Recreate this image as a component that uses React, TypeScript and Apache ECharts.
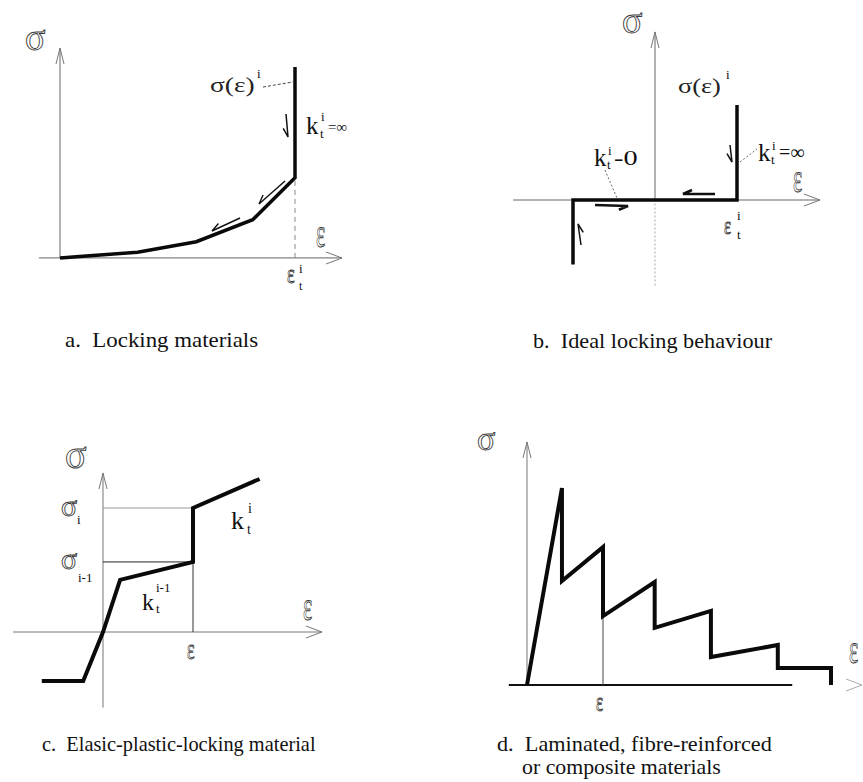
import { useEffect, useRef } from "react";
import * as echarts from "echarts";

// a. Locking materials: loading path, strain scaled so that ε_t^i = 1
const lockingStrain = [0, 0.33, 0.58, 0.82, 1.0, 1.0];
const lockingStress = [0, 0.03, 0.085, 0.2, 0.42, 1.0];

// b. Ideal locking behaviour
const idealStrain = [-1, -1, 1, 1];
const idealStress = [-0.68, 0, 0, 1];

// c. Elastic-plastic-locking material
const eplStrain = [-0.68, -0.22, 0, 0.19, 1, 1, 1.74];
const eplStress = [-0.395, -0.395, 0, 0.42, 0.565, 1, 1.234];
const sigmaI = 1;
const sigmaIPrev = 0.565;
const strainMarkC = 1;

// d. Laminated, fibre-reinforced or composite materials
const lamStrain = [0, 0.46, 0.46, 1, 1, 1.68, 1.68, 2.42, 2.42, 3.3, 3.3, 4, 4];
const lamStress = [0, 1, 0.528, 0.7, 0.35, 0.523, 0.29, 0.376, 0.142, 0.203, 0.086, 0.086, 0];
const strainMarkD = 1;

const captions = [
  "a.\u00a0 Locking materials",
  "b.\u00a0 Ideal locking behaviour",
  "c.\u00a0 Elasic-plastic-locking material",
  "d.\u00a0 Laminated, fibre-reinforced",
  "or composite materials",
];

const SERIF = "Liberation Serif";

const zip = (xs: number[], ys: number[]) => xs.map((x, i) => [x, ys[i]]);

function seg(grid: number, data: number[][], color: string, width: number, type: any = "solid", z = 2) {
  return {
    type: "line",
    xAxisIndex: grid,
    yAxisIndex: grid,
    data,
    symbol: "none",
    silent: true,
    z,
    lineStyle: { color, width, type, join: "miter", cap: "butt" },
  };
}

function txt(x: number, baseline: number, text: string, size: number, opt: any = {}) {
  const outline = opt.outline;
  const style: any = {
    text,
    fontSize: size,
    fontFamily: SERIF,
    fill: outline ? "none" : opt.fill ?? "#111",
    align: "left",
    verticalAlign: "middle",
  };
  if (outline) {
    style.stroke = "#3a3a3a";
    style.lineWidth = 0.9;
  }
  return {
    type: "text",
    x,
    y: baseline - 0.34 * size,
    scaleX: opt.scaleX ?? 1,
    z: 10,
    style,
  };
}

function poly(points: number[][], color: string, width: number, lineDash?: number[]) {
  return {
    type: "polyline",
    z: 9,
    shape: { points },
    style: { stroke: color, lineWidth: width, fill: "none", lineDash },
  };
}

// single-barbed arrow drawn beside a branch of the curve
function halfArrow(x1: number, y1: number, x2: number, y2: number, width: number) {
  const dx = x2 - x1;
  const dy = y2 - y1;
  const L = Math.hypot(dx, dy);
  const ux = dx / L;
  const uy = dy / L;
  const px = -uy;
  const py = ux;
  return poly(
    [
      [x1, y1],
      [x2, y2],
      [x2 - ux * 9 + px * 4, y2 - uy * 9 + py * 4],
    ],
    "#111",
    width
  );
}

function chevron(tipX: number, tipY: number, dir: "up" | "right", color = "#777") {
  const pts =
    dir === "up"
      ? [
          [tipX - 4, tipY + 16],
          [tipX, tipY],
          [tipX + 4, tipY + 16],
        ]
      : [
          [tipX - 16, tipY - 6],
          [tipX, tipY],
          [tipX - 16, tipY + 6],
        ];
  return poly(pts, color, 1);
}

export default function App() {
  const ref = useRef<HTMLDivElement>(null);

  useEffect(() => {
    document.body.style.margin = "0";
    if (!ref.current) return;
    const chart = echarts.init(ref.current, undefined, { renderer: "svg" });

    const axisBase = { show: false, type: "value" as const, splitLine: { show: false } };
    const AXIS = "#666";
    const CURVE = "#0a0a0a";

    chart.setOption({
      animation: false,
      backgroundColor: "#ffffff",
      textStyle: { fontFamily: SERIF },
      grid: [
        { left: 36.5, top: 48, width: 305.5, height: 229 },
        { left: 507.4, top: 29, width: 319.8, height: 266 },
        { left: 4, top: 470.8, width: 324, height: 248 },
        { left: 504.2, top: 428.9, width: 342, height: 275.8 },
      ],
      xAxis: [
        { ...axisBase, gridIndex: 0, min: -0.1, max: 1.2 },
        { ...axisBase, gridIndex: 1, min: -1.8, max: 2.1 },
        { ...axisBase, gridIndex: 2, min: -1.1, max: 2.5 },
        { ...axisBase, gridIndex: 3, min: -0.3, max: 4.2 },
      ],
      yAxis: [
        { ...axisBase, gridIndex: 0, min: -0.1, max: 1.1 },
        { ...axisBase, gridIndex: 1, min: -1, max: 1.8 },
        { ...axisBase, gridIndex: 2, min: -0.7, max: 1.3 },
        { ...axisBase, gridIndex: 3, min: -0.1, max: 1.3 },
      ],
      series: [
        // a
        seg(0, [[-0.09, 0], [1.2, 0]], AXIS, 1),
        seg(0, [[0, 0], [0, 1.1]], AXIS, 1),
        seg(0, [[1, 0], [1, lockingStress[4]]], "#888", 1, [5, 4]),
        seg(0, zip(lockingStrain, lockingStress), CURVE, 3.5, "solid", 5),
        // b
        seg(1, [[-1.73, 0], [2.01, 0]], AXIS, 1),
        seg(1, [[0, 0], [0, 1.77]], AXIS, 1),
        seg(1, [[0, -0.9], [0, 0]], "#aaa", 1, [2, 2]),
        seg(1, zip(idealStrain, idealStress), CURVE, 3.5, "solid", 5),
        // c
        seg(2, [[-1.0, 0], [2.43, 0]], "#777", 1),
        seg(2, [[0, -0.61], [0, 1.28]], "#777", 1),
        seg(2, [[0, sigmaI], [strainMarkC, sigmaI]], "#999", 1),
        seg(2, [[0, sigmaIPrev], [strainMarkC, sigmaIPrev]], "#222", 1),
        seg(2, [[strainMarkC, 0], [strainMarkC, sigmaIPrev]], "#333", 1),
        seg(2, zip(eplStrain, eplStress), CURVE, 4, "solid", 5),
        // d
        seg(3, [[-0.24, 0], [3.49, 0]], "#111", 2),
        seg(3, [[0, 0], [0, 1.234]], "#777", 1),
        seg(3, [[strainMarkD, 0], [strainMarkD, lamStress[4]]], "#444", 1),
        seg(3, zip(lamStrain, lamStress), CURVE, 4, "solid", 5),
      ],
      graphic: [
        // axis arrowheads
        chevron(342, 258, "right"),
        chevron(60, 48, "up"),
        chevron(820, 200, "right"),
        chevron(655, 32, "up"),
        chevron(322, 632, "right"),
        chevron(103, 473, "up"),
        chevron(527, 442, "up"),
        chevron(862, 685, "right", "#aaa"),

        // a. labels
        txt(25, 50, "σ", 38, { outline: true }),
        txt(210, 92, "σ(ε)", 22, { fill: "#222", scaleX: 1.25 }),
        txt(257, 78, "i", 13),
        poly([[263, 87], [293, 82]], "#444", 1, [3, 2]),
        txt(306, 134, "k", 25),
        txt(321, 121, "i", 13),
        txt(320, 138, "t", 13),
        txt(328, 132, "=∞", 15),
        txt(316, 247, "ε", 40, { outline: true, scaleX: 0.55 }),
        txt(287, 283, "ε", 28, { outline: true, scaleX: 0.65 }),
        txt(299, 273, "i", 13),
        txt(299, 290, "t", 12),
        halfArrow(286, 114, 288, 137, 1.5),
        halfArrow(285, 181, 259, 204, 1.4),
        halfArrow(240, 218, 212, 231, 1.4),

        // b. labels
        txt(622, 33, "σ", 38, { outline: true }),
        txt(678, 93, "σ(ε)", 22, { fill: "#222", scaleX: 1.2 }),
        txt(726, 79, "i", 13),
        txt(758, 161, "k", 25),
        txt(772, 150, "i", 13),
        txt(771, 164, "t", 13),
        txt(779, 159, "=∞", 20),
        poly([[740, 162], [757, 149]], "#666", 1, [2, 2]),
        txt(594, 166, "k", 25),
        txt(608, 155, "i", 13),
        txt(607, 169, "t", 13),
        txt(614, 165, "-0", 21, { scaleX: 1.35 }),
        poly([[605, 170], [617, 198]], "#666", 1, [2, 2]),
        txt(793, 192, "ε", 40, { outline: true, scaleX: 0.55 }),
        txt(724, 234, "ε", 26, { outline: true, scaleX: 0.65 }),
        txt(737, 220, "i", 13),
        txt(737, 239, "t", 13),
        halfArrow(595, 205, 628, 206, 2.5),
        halfArrow(715, 194, 683, 194, 2.5),
        halfArrow(730, 145, 732, 162, 1.5),
        halfArrow(581, 245, 578, 224, 1.5),

        // c. labels
        txt(65, 468, "σ", 40, { outline: true }),
        txt(61, 516, "σ", 30, { outline: true }),
        txt(77, 524, "i", 13),
        txt(61, 569, "σ", 30, { outline: true }),
        txt(78, 582, "i-1", 13),
        txt(231, 529, "k", 26),
        txt(248, 513, "i", 14),
        txt(247, 534, "t", 14),
        txt(142, 610, "k", 24),
        txt(156, 592, "i-1", 13),
        txt(156, 613, "t", 13),
        txt(187, 659, "ε", 30, { outline: true, scaleX: 0.6 }),
        txt(303, 620, "ε", 40, { outline: true, scaleX: 0.55 }),

        // d. labels
        txt(477, 450, "σ", 34, { outline: true }),
        txt(596, 711, "ε", 28, { outline: true, scaleX: 0.6 }),
        txt(849, 663, "ε", 40, { outline: true, scaleX: 0.55 }),

        // captions
        txt(65, 347, captions[0], 21, { scaleX: 1.09 }),
        txt(533, 348, captions[1], 21, { scaleX: 1.06 }),
        txt(42, 751, captions[2], 21, { scaleX: 0.97 }),
        txt(497, 751, captions[3], 21, { scaleX: 1.06 }),
        txt(522, 774, captions[4], 21, { scaleX: 1.04 }),
      ],
    });

    return () => chart.dispose();
  }, []);

  return <div ref={ref} style={{ width: 863, height: 782 }} />;
}
